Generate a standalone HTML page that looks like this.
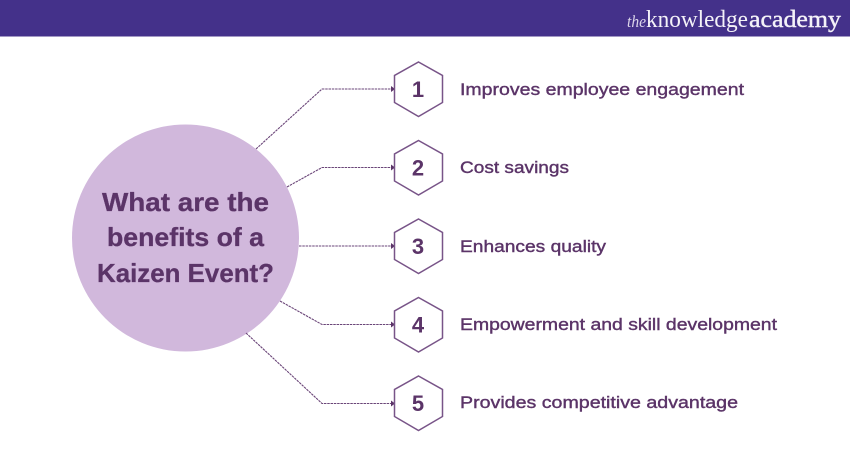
<!DOCTYPE html>
<html><head><meta charset="utf-8"><style>
html,body{margin:0;padding:0;background:#fff;width:850px;height:450px;overflow:hidden}
svg{display:block}
text{font-family:"Liberation Sans",sans-serif;fill:#5b3468}
.t{font-size:17px;font-weight:400;stroke:#5b3468;stroke-width:.4}
.n{font-size:22px;font-weight:700;text-anchor:middle}
.h{font-size:26px;font-weight:700;stroke:#5b3468;stroke-width:.3}
.c{fill:none;stroke:#6a4578;stroke-width:1.1;stroke-dasharray:2.5 .8}
.x{fill:#fff;stroke:#785488;stroke-width:1.5}
.a{fill:#5b3468}
</style></head><body>
<svg width="850" height="450" viewBox="0 0 850 450" xmlns="http://www.w3.org/2000/svg">
<rect width="850" height="36.5" fill="#44318a"/>
<text x="627" y="27" style="font-family:'Liberation Serif',serif;font-size:17px;font-style:italic;fill:#dcd6ea" textLength="19" lengthAdjust="spacingAndGlyphs">the</text>
<text x="646" y="27" style="font-family:'Liberation Serif',serif;font-size:24px;fill:#f4f2f8" textLength="102" lengthAdjust="spacingAndGlyphs">knowledge</text>
<text x="749" y="27" style="font-family:'Liberation Serif',serif;font-size:24px;fill:#f4f2f8;stroke:#f4f2f8;stroke-width:.4" textLength="92" lengthAdjust="spacingAndGlyphs">academy</text>
<circle cx="185.500" cy="238" r="113.500" fill="#d1b8dc"/>
<text class="h" x="102" y="211" textLength="167" lengthAdjust="spacingAndGlyphs">What are the</text>
<text class="h" x="107" y="246" textLength="157" lengthAdjust="spacingAndGlyphs">benefits of a</text>
<text class="h" x="97" y="282" textLength="177" lengthAdjust="spacingAndGlyphs">Kaizen Event?</text>
<path class="c" d="M256 149 L322 89 H392"/>
<path class="c" d="M287 187 L322 167.500 H392"/>
<path class="c" d="M299 246 H392"/>
<path class="c" d="M280 301 L322 324.500 H392"/>
<path class="c" d="M246 333 L322 403.500 H392"/>
<path class="a" d="M391 86 L395 89 L391 92Z"/>
<path class="a" d="M391 164.500 L395 167.500 L391 170.500Z"/>
<path class="a" d="M391 243 L395 246 L391 249Z"/>
<path class="a" d="M391 321.500 L395 324.500 L391 327.500Z"/>
<path class="a" d="M391 400.500 L395 403.500 L391 406.500Z"/>
<path class="x" d="M418.500 62 L442.500 75.500 V102.500 L418.500 116.500 L394.500 102.500 V75.500Z"/>
<path class="x" d="M418.500 140.500 L442.500 154 V181 L418.500 195 L394.500 181 V154Z"/>
<path class="x" d="M418.500 219 L442.500 232.500 V259.500 L418.500 273.500 L394.500 259.500 V232.500Z"/>
<path class="x" d="M418.500 297.500 L442.500 311 V338 L418.500 352 L394.500 338 V311Z"/>
<path class="x" d="M418.500 376 L442.500 389.500 V416.500 L418.500 430.500 L394.500 416.500 V389.500Z"/>
<text class="n" x="418" y="97">1</text>
<text class="n" x="418" y="175.500">2</text>
<text class="n" x="418" y="254">3</text>
<text class="n" x="418" y="332.500">4</text>
<text class="n" x="418" y="411">5</text>
<text class="t" x="460" y="95" textLength="284" lengthAdjust="spacingAndGlyphs">Improves employee engagement</text>
<text class="t" x="460" y="173" textLength="109" lengthAdjust="spacingAndGlyphs">Cost savings</text>
<text class="t" x="460" y="252" textLength="146" lengthAdjust="spacingAndGlyphs">Enhances quality</text>
<text class="t" x="460" y="330" textLength="317" lengthAdjust="spacingAndGlyphs">Empowerment and skill development</text>
<text class="t" x="460" y="408" textLength="278" lengthAdjust="spacingAndGlyphs">Provides competitive advantage</text>
</svg>
</body></html>
